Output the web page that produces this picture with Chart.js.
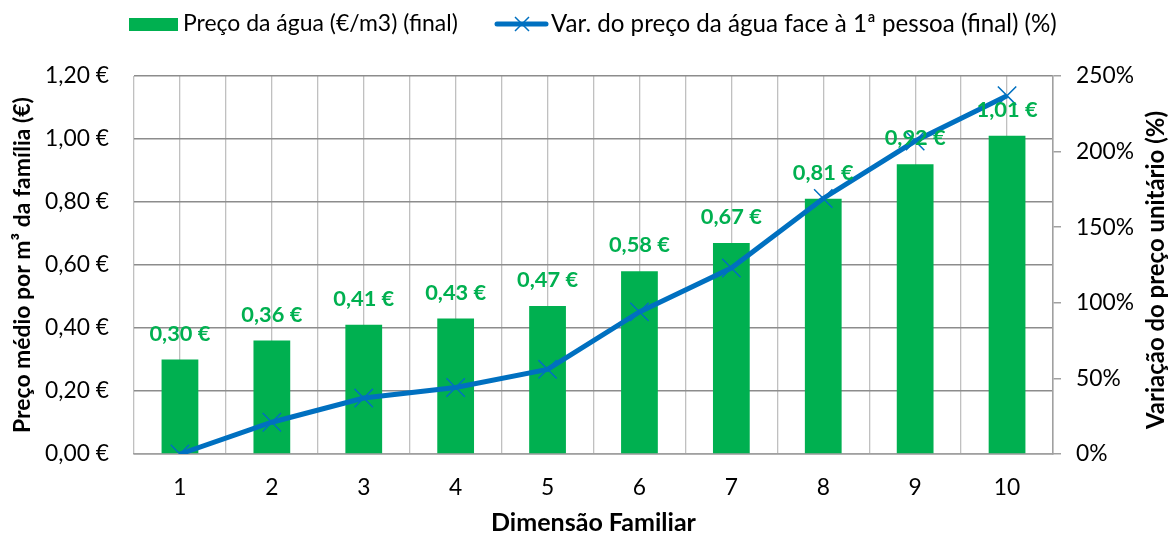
<!DOCTYPE html>
<html>
<head>
<meta charset="utf-8">
<script src="https://cdn.jsdelivr.net/npm/chart.js@4"></script>
<style>
  html,body{margin:0;padding:0;background:#fff;}
  #wrap{width:1174px;height:539px;position:relative;}
</style>
</head>
<body>
<div id="wrap"><canvas id="c" width="1174" height="539"></canvas></div>
<script>
// ---- data ----
const categories = ['1','2','3','4','5','6','7','8','9','10'];
const precoAgua = [0.30, 0.36, 0.41, 0.43, 0.47, 0.58, 0.67, 0.81, 0.92, 1.01];
const variacaoPct = [0, 21, 37, 44, 56, 94, 123, 169, 207, 237];
const leftTicks = [0, 0.2, 0.4, 0.6, 0.8, 1.0, 1.2];
const rightTicks = [0, 50, 100, 150, 200, 250];
const barLabel = 'Preço da água (€/m3) (final)';
const lineLabel = 'Var. do preço da água face à 1ª pessoa (final) (%)';
const leftTitle = 'Preço médio por m³ da família (€)';
const rightTitle = 'Variação do preço unitário (%)';
const xTitle = 'Dimensão Familiar';

const FONT = 'Lato, "Open Sans", sans-serif';
const GREEN = '#00B050';
const BLUE = '#0070C0';

function fmtEuro(v){ return v.toFixed(2).replace('.', ',') + ' €'; }

// size fonts so text widths match the reference widths
const mctx = document.createElement('canvas').getContext('2d');
function fitSize(text, bold, target){
  mctx.font = (bold ? 'bold ' : '') + '100px ' + FONT;
  return 100 * target / mctx.measureText(text).width;
}
const tickSize = Math.min(26, (fitSize('0,00 €', false, 65) + fitSize('250%', false, 58) + fitSize('10', false, 26)) / 3);
const legendSize1 = fitSize(barLabel, false, 275);
const legendSize2 = fitSize(lineLabel, false, 506);
const dataLabelSize = fitSize('0,30 €', true, 61);
const xTitleSize = fitSize(xTitle, true, 205);
const leftTitleSize = fitSize(leftTitle, true, 336);
const rightTitleSize = fitSize(rightTitle, true, 318);

const customPlugin = {
  id: 'custom',
  afterDatasetsDraw(chart) {
    const ctx = chart.ctx;
    const meta = chart.getDatasetMeta(0);
    ctx.save();
    ctx.font = 'bold ' + dataLabelSize + 'px ' + FONT;
    ctx.fillStyle = GREEN;
    ctx.textAlign = 'center';
    ctx.textBaseline = 'middle';
    meta.data.forEach((bar, i) => {
      ctx.fillText(fmtEuro(precoAgua[i]), bar.x, bar.y - 26);
    });
    ctx.restore();
  },
  afterDraw(chart) {
    const ctx = chart.ctx;
    const area = chart.chartArea;
    ctx.save();
    // legend
    ctx.fillStyle = GREEN;
    ctx.fillRect(129, 18, 49, 13);
    ctx.font = legendSize1 + 'px ' + FONT;
    ctx.fillStyle = '#000';
    ctx.textAlign = 'left';
    ctx.textBaseline = 'middle';
    ctx.fillText(barLabel, 183, 24);
    ctx.strokeStyle = BLUE;
    ctx.lineWidth = 5;
    ctx.lineCap = 'round';
    ctx.beginPath(); ctx.moveTo(497, 24); ctx.lineTo(546, 24); ctx.stroke();
    ctx.lineWidth = 1.5;
    ctx.lineCap = 'butt';
    ctx.beginPath();
    ctx.moveTo(515, 17); ctx.lineTo(529, 31);
    ctx.moveTo(529, 17); ctx.lineTo(515, 31);
    ctx.stroke();
    ctx.fillStyle = '#000';
    ctx.font = legendSize2 + 'px ' + FONT;
    ctx.fillText(lineLabel, 551, 24);
    // titles
    ctx.textAlign = 'center';
    ctx.textBaseline = 'middle';
    const cy = (area.top + area.bottom) / 2;
    ctx.font = 'bold ' + leftTitleSize + 'px ' + FONT;
    ctx.save(); ctx.translate(23, cy); ctx.rotate(-Math.PI/2); ctx.fillText(leftTitle, 0, 0); ctx.restore();
    ctx.font = 'bold ' + rightTitleSize + 'px ' + FONT;
    ctx.save(); ctx.translate(1156, cy + 5); ctx.rotate(-Math.PI/2); ctx.fillText(rightTitle, 0, 0); ctx.restore();
    ctx.font = 'bold ' + xTitleSize + 'px ' + FONT;
    ctx.fillText(xTitle, (area.left + area.right) / 2, 523);
    ctx.restore();
  }
};

new Chart(document.getElementById('c'), {
  data: {
    labels: categories,
    datasets: [
      {
        type: 'bar',
        label: barLabel,
        data: precoAgua,
        backgroundColor: GREEN,
        yAxisID: 'y',
        xAxisID: 'x',
        barPercentage: 0.4,
        categoryPercentage: 1.0,
        order: 2
      },
      {
        type: 'line',
        label: lineLabel,
        data: variacaoPct,
        borderColor: BLUE,
        backgroundColor: BLUE,
        borderWidth: 5,
        pointStyle: 'crossRot',
        pointRadius: 13,
        pointBorderWidth: 1.5,
        pointBorderColor: BLUE,
        tension: 0,
        yAxisID: 'y1',
        xAxisID: 'x',
        order: 1
      }
    ]
  },
  options: {
    responsive: false,
    animation: false,
    layout: { padding: { top: 76, left: 0, right: 0, bottom: 0 } },
    plugins: { legend: { display: false }, tooltip: { enabled: false } },
    scales: {
      x: {
        type: 'category',
        position: 'bottom',
        offset: true,
        grid: { display: false, drawTicks: false },
        border: { display: true, color: '#a0a0a0', width: 1.5 },
        ticks: { font: { family: FONT, size: tickSize }, color: '#000', padding: Math.max(4, 488 - 454 - 0.6 * tickSize) },
        afterFit(s) { s.height = 85; }
      },
      xg: {
        type: 'linear',
        position: 'bottom',
        min: 0.5, max: 10.5,
        grid: { color: '#c0c0c0', lineWidth: 1.3, drawTicks: false },
        border: { display: false },
        ticks: { display: false, stepSize: 0.5 },
        afterFit(s) { s.height = 0; }
      },
      y: {
        position: 'left',
        min: 0, max: 1.2,
        afterBuildTicks(s) { s.ticks = leftTicks.map(v => ({ value: v })); },
        ticks: {
          font: { family: FONT, size: tickSize }, color: '#000', padding: 25,
          callback: (v) => fmtEuro(v)
        },
        grid: { color: '#8c8c8c', lineWidth: 1.5, drawTicks: false },
        border: { display: false },
        afterFit(s) { s.width = 134; }
      },
      y1: {
        position: 'right',
        min: 0, max: 250,
        afterBuildTicks(s) { s.ticks = rightTicks.map(v => ({ value: v })); },
        ticks: {
          font: { family: FONT, size: tickSize }, color: '#000', padding: 15,
          callback: (v) => v + '%'
        },
        grid: { drawOnChartArea: false, drawTicks: true, tickLength: 8, color: '#a0a0a0', lineWidth: 1.5 },
        border: { display: true, color: '#a0a0a0', width: 1.5 },
        afterFit(s) { s.width = 121; }
      }
    }
  },
  plugins: [customPlugin]
});
</script>
</body>
</html>
